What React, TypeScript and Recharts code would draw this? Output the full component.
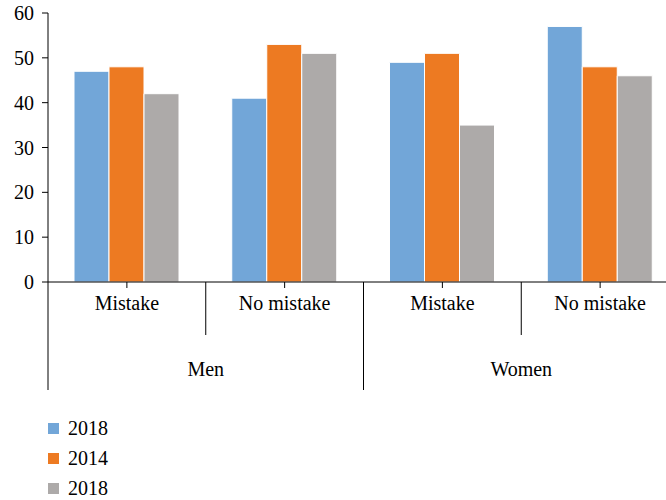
import { BarChart, Bar, XAxis, YAxis } from 'recharts'

const groups = ['Men', 'Men', 'Women', 'Women']
const subCategories = ['Mistake', 'No mistake', 'Mistake', 'No mistake']
const seriesA2018 = [47, 41, 49, 57]
const series2014 = [48, 53, 51, 48]
const seriesB2018 = [42, 51, 35, 46]
const legendLabels = ['2018', '2014', '2018']
const colors = ['#72a6d8', '#ed7a22', '#adaaa9']
const yTicks = [0, 10, 20, 30, 40, 50, 60]

const data = subCategories.map((sub, i) => ({
  key: `${groups[i]}-${sub}`,
  sub,
  group: groups[i],
  a: seriesA2018[i],
  b: series2014[i],
  c: seriesB2018[i],
}))

const FONT = 'Liberation Serif'
const FS = 20
const BAND = 631 / 4

// two-level category axis: sub labels, group labels and the separators
const SubTick = (props: any) => {
  const { x, y, payload, index } = props
  const top = y - 6
  const half = payload?.offset ?? BAND / 2
  const isGroupStart = index === 0 || groups[index] !== groups[index - 1]
  const isGroupEnd = index === groups.length - 1 || groups[index] !== groups[index + 1]
  return (
    <g>
      <text x={x} y={top + 28} textAnchor="middle" fill="#000" fontSize={FS} fontFamily={FONT}>
        {payload.value}
      </text>
      {index === 0 && (
        <line x1={x - half} x2={x - half} y1={top} y2={top + 108} stroke="#000" />
      )}
      {index < groups.length - 1 && (
        <line
          x1={x + half}
          x2={x + half}
          y1={top}
          y2={isGroupEnd ? top + 108 : top + 53}
          stroke="#000"
        />
      )}
      {isGroupStart && (
        <text x={x + half} y={top + 94} textAnchor="middle" fill="#000" fontSize={FS} fontFamily={FONT}>
          {groups[index]}
        </text>
      )}
    </g>
  )
}

export default function App() {
  const keys = ['a', 'b', 'c']
  return (
    <div style={{ position: 'absolute', left: 0, top: 0, width: 666, height: 500, overflow: 'hidden', background: '#fff' }}>
      <BarChart
        width={666}
        height={500}
        data={data}
        margin={{ top: 13, right: -13, bottom: 108, left: 0 }}
        barCategoryGap={26}
        barGap={0}
      >
        <XAxis
          dataKey="sub"
          height={110}
          interval={0}
          tickSize={6}
          tickMargin={0}
          axisLine={{ stroke: '#000' }}
          tickLine={{ stroke: '#000' }}
          tick={<SubTick />}
        />
        <YAxis
          width={48}
          domain={[0, 60]}
          ticks={yTicks}
          tickSize={6}
          tickMargin={8}
          axisLine={{ stroke: '#000' }}
          tickLine={{ stroke: '#000' }}
          tick={{ fill: '#000', fontSize: FS, fontFamily: FONT }}
        />
        {keys.map((k, i) => (
          <Bar
            key={k}
            dataKey={k}
            name={legendLabels[i]}
            fill={colors[i]}
            stroke="#ffffff"
            strokeWidth={1}
            isAnimationActive={false}
          />
        ))}
      </BarChart>
      <svg width={200} height={90} style={{ position: 'absolute', left: 0, top: 410 }}>
        {legendLabels.map((label, i) => (
          <g key={i}>
            <rect x={48} y={13 + i * 30} width={11} height={11} fill={colors[i]} />
            <text x={68} y={25 + i * 30} fontSize={FS} fontFamily={FONT} fill="#000">
              {label}
            </text>
          </g>
        ))}
      </svg>
    </div>
  )
}
